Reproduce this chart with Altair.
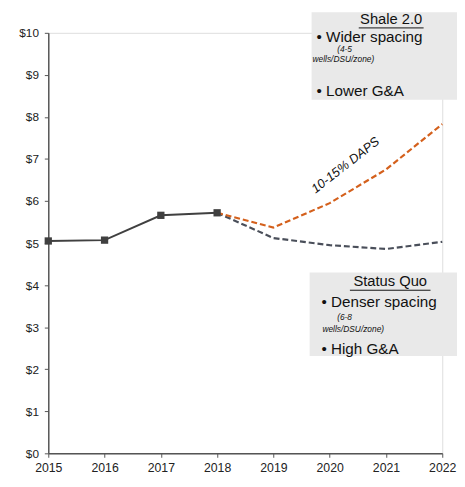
import altair as alt
import pandas as pd

# ---- data ----
hist_years = [2015, 2016, 2017, 2018]
hist_vals = [5.05, 5.07, 5.66, 5.72]

proj_years = [2018, 2019, 2020, 2021, 2022]
status_quo = [5.72, 5.12, 4.95, 4.86, 5.03]
shale_20 = [5.72, 5.37, 5.95, 6.75, 7.83]

y_ticks = [0, 1, 2, 3, 4, 5, 6, 7, 8, 9, 10]
x_ticks = [2015, 2016, 2017, 2018, 2019, 2020, 2021, 2022]

hist_df = pd.DataFrame({"year": hist_years, "val": hist_vals})
proj_df = pd.DataFrame({
    "year": proj_years * 2,
    "val": status_quo + shale_20,
    "series": ["Status Quo"] * len(proj_years) + ["Shale 2.0"] * len(proj_years),
})

FONT = "Liberation Sans"
W, H = 401, 428

xs = alt.Scale(domain=[2015, 2022], nice=False, zero=False)
ys = alt.Scale(domain=[0, 10], nice=False)

x_enc = alt.X("year:Q", scale=xs, axis=alt.Axis(
    values=x_ticks, format="d", title=None, grid=False,
    labelFont=FONT, labelFontSize=12.5, labelColor="#222222",
    domainColor="#555555", domainWidth=1.5, tickColor="#555555",
    tickSize=4, labelPadding=4, labelFlush=False))
y_enc = alt.Y("val:Q", scale=ys, axis=alt.Axis(
    values=y_ticks, format="$d", title=None, grid=False,
    labelFont=FONT, labelFontSize=12, labelColor="#222222",
    domainColor="#555555", domainWidth=1.5, tickColor="#555555",
    tickSize=4, labelPadding=6))

# annotation boxes (pixel positions in plot area)
box1 = alt.Chart(pd.DataFrame({"a": [0]})).mark_rect(color="#e9e9e9", clip=False).encode(
    x=alt.value(268), x2=alt.value(416), y=alt.value(-21), y2=alt.value(68))
box2 = alt.Chart(pd.DataFrame({"a": [0]})).mark_rect(color="#e9e9e9", clip=False).encode(
    x=alt.value(266), x2=alt.value(416), y=alt.value(244), y2=alt.value(329))

def txt(s, x, y, size=13, style="normal", align="left"):
    return alt.Chart(pd.DataFrame({"t": [s]})).mark_text(
        font=FONT, fontSize=size, fontStyle=style, align=align, baseline="middle",
        color="#111111", clip=False).encode(
        text="t:N", x=alt.value(x), y=alt.value(y))

def uline(x1, x2, y):
    return alt.Chart(pd.DataFrame({"a": [0]})).mark_rule(color="#111111", strokeWidth=1, clip=False).encode(
        x=alt.value(x1), x2=alt.value(x2), y=alt.value(y))

annots = [
    txt("Shale 2.0", 349, -14, size=15, align="center"), uline(316, 382, -5),
    txt("\u2022 Wider spacing", 273, 4, size=15.5),
    txt("(4-5", 294, 17, size=8.5, style="italic"),
    txt("wells/DSU/zone)", 269, 27, size=8.5, style="italic"),
    txt("\u2022 Lower G&A", 273, 59, size=15.5),
    txt("Status Quo", 348, 253, size=15, align="center"), uline(307, 389, 262),
    txt("\u2022 Denser spacing", 278, 274, size=15.5),
    txt("(6-8", 294, 289, size=8.5, style="italic"),
    txt("wells/DSU/zone)", 279, 302, size=8.5, style="italic"),
    txt("\u2022 High G&A", 278, 322, size=15.5),
]

hist_line = alt.Chart(hist_df).mark_line(color="#404040", strokeWidth=2).encode(x=x_enc, y=y_enc)
hist_pts = alt.Chart(hist_df).mark_square(color="#404040", size=55, opacity=1).encode(x="year:Q", y="val:Q")

proj = alt.Chart(proj_df).mark_line(strokeWidth=2.2, strokeDash=[6, 3], interpolate="linear").encode(
    x="year:Q", y="val:Q",
    color=alt.Color("series:N", scale=alt.Scale(domain=["Status Quo", "Shale 2.0"],
                                               range=["#4a4f5a", "#d4601c"]), legend=None),
)

daps = alt.Chart(pd.DataFrame({"t": ["10-15% DAPS"], "year": [2020.28], "val": [6.85]})).mark_text(
    font=FONT, fontSize=13, fontStyle="italic", angle=322, color="#111111", align="center",
    baseline="middle").encode(x="year:Q", y="val:Q", text="t:N")

chart = alt.layer(box1, box2, hist_line, proj, hist_pts, daps, *annots).properties(
    width=W, height=H,
    autosize=alt.AutoSizeParams(type="none"),
    padding={"left": 41, "top": 21, "right": 15, "bottom": 30},
).configure_view(stroke=None).configure(background="white")

chart.save("out.html", embed_options={"renderer": "svg", "actions": False})
